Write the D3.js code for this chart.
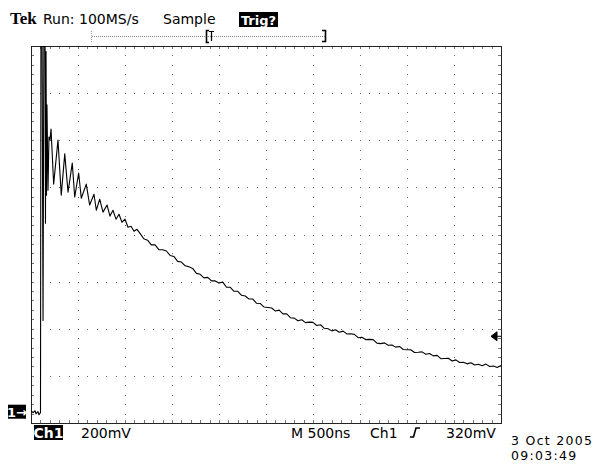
<!DOCTYPE html>
<html><head><meta charset="utf-8">
<script src="https://cdn.jsdelivr.net/npm/d3@7"></script>
<style>
html,body{margin:0;padding:0;background:#fff;}
svg{display:block;}
</style></head>
<body>
<svg id="c" width="600" height="466"></svg>
<script>
// ---- data ----
const timeDomainNs = [0, 5000];          // 10 div x 500 ns
const voltDomainMv = [-48, 1552];        // 8 div x 200 mV, ground 0.24 div above bottom
const nsPerDiv = 500, mvPerDiv = 200, minorPerDiv = 5;
const triggerLevelMv = 320;

// spike + ringing (time ns, volts mV)
const ringTimeNs = [0,21,43,53,74,85,101,106,117,128,138,149,154,160,165,170,181,191,202,213,241,287,322,359,394,439,465,507,535,588,624,670,695,731,766,809,840,872,904,936,968,1000,1032,1064,1096,1128];
const ringMv     = [4,-4,4,-9,0,-13,-4,1700,1700,387,1700,1700,800,1528,919,1302,940,1166,1153,1200,966,1153,919,1094,932,1055,911,1013,906,966,877,923,855,902,847,877,830,855,817,838,804,817,783,787,766,774];

// exponential-like tail, sampled every 40 ns starting at 1160 ns
const tailStartNs = 1160, tailStepNs = 40;
const tailMv = [757,734,728,708,708,688,687,682,663,659,638,635,619,615,608,587,583,568,570,555,555,546,550,528,528,511,511,494,491,478,478,460,459,444,442,440,427,431,415,415,399,397,386,390,378,380,379,366,369,354,352,343,348,337,342,330,331,328,314,316,306,307,306,291,289,292,282,283,274,277,264,263,263,251,252,254,244,247,237,239,225,226,227,215,220,209,210,203,208,198,201,195,202,192,194,188,196];

// labels
const headerBrand = "Tek";
const headerRun = "Run: 100MS/s";
const headerMode = "Sample";
const headerTrig = "Trig?";
const chLabel = "Ch1";
const voltsLabel = "200mV";
const timeLabel = "M 500ns";
const trigSrc = "Ch1";
const trigLvlLabel = "320mV";
const dateLine1 = "3 Oct 2005";
const dateLine2 = "09:03:49";
const groundMarker = "1\u2192";

// ---- drawing ----
const SANS = "'DejaVu Sans', sans-serif";
const SERIF = "'Liberation Serif', 'DejaVu Serif', serif";
const svg = d3.select("#c");
svg.append("rect").attr("width",600).attr("height",466).attr("fill","#fff");

const X0 = 31, X1 = 501, Y0 = 46, Y1 = 423;
const x = d3.scaleLinear().domain(timeDomainNs).range([X0, X1]);
const y = d3.scaleLinear().domain(voltDomainMv).range([Y1, Y0]);

const xMajor = d3.range(timeDomainNs[0], timeDomainNs[1] + 1, nsPerDiv);
const yMajor = d3.range(0, 9).map(k => voltDomainMv[0] + k * mvPerDiv);
const xMinor = d3.range(0, 10 * minorPerDiv + 1).map(i => timeDomainNs[0] + i * nsPerDiv / minorPerDiv);
const yMinor = d3.range(0, 8 * minorPerDiv + 1).map(i => voltDomainMv[0] + i * mvPerDiv / minorPerDiv);

const g = svg.append("g").attr("shape-rendering","crispEdges");
// dotted grid
const dots = [];
xMajor.slice(1,-1).forEach(xv => yMinor.slice(1,-1).forEach(yv => dots.push([x(xv), y(yv)])));
yMajor.slice(1,-1).forEach(yv => xMinor.slice(1,-1).forEach(xv => dots.push([x(xv), y(yv)])));
g.selectAll("rect.dot").data(dots).enter().append("rect").attr("class","dot")
  .attr("x", d => Math.round(d[0])).attr("y", d => Math.round(d[1]))
  .attr("width",1).attr("height",1).attr("fill","#666");

// border ticks
const tk = [];
xMinor.slice(1,-1).forEach(xv => { const px = Math.round(x(xv))+0.5; tk.push([px,Y0,px,Y0+3]); tk.push([px,Y1-3,px,Y1]); });
yMinor.slice(1,-1).forEach(yv => { const py = Math.round(y(yv))+0.5; tk.push([X0,py,X0+3,py]); tk.push([X1-3,py,X1,py]); });
g.selectAll("line.tk").data(tk).enter().append("line").attr("class","tk")
  .attr("x1",d=>d[0]).attr("y1",d=>d[1]).attr("x2",d=>d[2]).attr("y2",d=>d[3])
  .attr("stroke","#777").attr("stroke-width",1);

// frame
g.append("rect").attr("x",X0+0.5).attr("y",Y0+0.5).attr("width",X1-X0).attr("height",Y1-Y0)
  .attr("fill","none").attr("stroke","#222").attr("stroke-width",1.5);

// waveform
const pts = ringTimeNs.map((t,i) => [t, ringMv[i]])
  .concat(tailMv.map((v,i) => [tailStartNs + i*tailStepNs, v]));
svg.append("clipPath").attr("id","clip").append("rect")
  .attr("x",X0).attr("y",Y0).attr("width",X1-X0).attr("height",Y1-Y0);
svg.append("path").attr("clip-path","url(#clip)")
  .attr("d", d3.line().x(d=>x(d[0])).y(d=>y(d[1]))(pts))
  .attr("fill","none").attr("stroke","#000").attr("stroke-width",1.1).attr("stroke-linejoin","round");

function txt(xp, yp, s, size, fam, opts) {
  const t = svg.append("text").attr("x",xp).attr("y",yp).text(s)
    .style("font-family", fam).style("font-size", size + "px");
  if (opts) Object.keys(opts).forEach(k => t.style(k, opts[k]));
  return t;
}

// ground marker
const gy = y(0);
svg.append("rect").attr("x",8).attr("y",gy-7).attr("width",18).attr("height",14).attr("fill","#000");
txt(17, gy+5, groundMarker, 13, SANS, {"fill":"#fff","font-weight":"bold","text-anchor":"middle"});

// trigger level arrow (right)
const ty = y(triggerLevelMv);
svg.append("path").attr("d",`M${X1-10},${ty} L${X1-4},${ty-4.5} L${X1-4},${ty+4.5} Z M${X1-4},${ty} L${X1},${ty}`)
  .attr("fill","#000").attr("stroke","#000").attr("stroke-width",1);

// header
txt(10, 24, headerBrand, 17, SERIF, {"font-weight":"bold"});
txt(43, 24, headerRun, 14, SANS);
txt(163, 24, headerMode, 14, SANS);
svg.append("rect").attr("x",239).attr("y",12).attr("width",39).attr("height",15).attr("fill","#000");
txt(258.5, 24.5, headerTrig, 13, SANS, {"fill":"#fff","font-weight":"bold","text-anchor":"middle"});

// record bar
const rb = svg.append("g");
rb.append("line").attr("x1",92).attr("x2",325).attr("y1",36.5).attr("y2",36.5)
  .attr("stroke","#888").attr("stroke-dasharray","1,1");
rb.append("line").attr("x1",91.5).attr("x2",91.5).attr("y1",31).attr("y2",42).attr("stroke","#999").attr("stroke-dasharray","1,1");
rb.append("path").attr("d","M209,30.5 H206.5 V42.5 H209").attr("fill","none").attr("stroke","#000").attr("stroke-width",1.6);
rb.append("path").attr("d","M209,31.5 H214 M211.5,31.5 V41").attr("fill","none").attr("stroke","#000").attr("stroke-width",1.2);
rb.append("path").attr("d","M322,30.5 H325.5 V41.5 H322").attr("fill","none").attr("stroke","#000").attr("stroke-width",1.6);

// footer
svg.append("rect").attr("x",34).attr("y",425).attr("width",29).attr("height",15).attr("fill","#000");
txt(48.5, 438, chLabel, 14, SANS, {"fill":"#fff","font-weight":"bold","text-anchor":"middle"});
txt(81, 438, voltsLabel, 14, SANS);
txt(291, 438, timeLabel, 14, SANS);
txt(370, 438, trigSrc, 14, SANS);
svg.append("path").attr("d","M410,437 H413.5 L416,428 H420").attr("fill","none").attr("stroke","#000").attr("stroke-width",1.6);
txt(446, 438, trigLvlLabel, 14, SANS);
txt(511, 445, dateLine1, 12.5, SANS, {"letter-spacing":"1.3px"});
txt(511, 460, dateLine2, 12.5, SANS, {"letter-spacing":"1.3px"});
</script>
</body></html>
